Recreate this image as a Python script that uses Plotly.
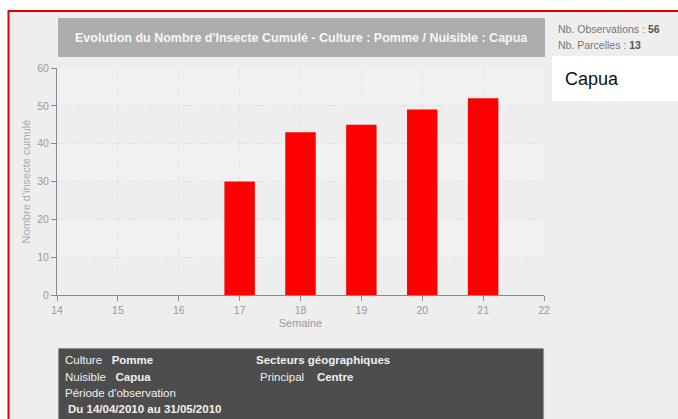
import plotly.graph_objects as go

# ---- data ----
weeks = [17, 18, 19, 20, 21]
cumulative = [30, 43, 45, 49, 52]
x_ticks = [14, 15, 16, 17, 18, 19, 20, 21, 22]
y_ticks = [0, 10, 20, 30, 40, 50, 60]
hatched_bands = [(10, 20), (30, 40), (50, 60)]

W, H = 678, 419
def px(x):
    return x / W
def py(y):
    return 1 - y / H

FONT_N = "Liberation Sans Narrow, Liberation Sans, Arial, sans-serif"
FONT = "Liberation Sans, Arial, sans-serif"

fig = go.Figure()
fig.add_trace(go.Bar(
    x=weeks, y=cumulative, width=0.5,
    marker=dict(color="#ff0000", line=dict(width=0)),
    hoverinfo="x+y", showlegend=False,
))

shapes = []
# outer frame with red border
shapes.append(dict(type="rect", xref="paper", yref="paper",
                   x0=px(8.5), x1=px(720), y0=py(11), y1=py(460),
                   fillcolor="#eeeeee", line=dict(color="#dd0000", width=2),
                   layer="below"))
# title box
shapes.append(dict(type="rect", xref="paper", yref="paper",
                   x0=px(58), x1=px(545), y0=py(18), y1=py(57),
                   fillcolor="#acacac", line=dict(width=0), layer="below"))
# white legend box
shapes.append(dict(type="rect", xref="paper", yref="paper",
                   x0=px(552), x1=px(720), y0=py(56), y1=py(101),
                   fillcolor="#ffffff", line=dict(width=0), layer="below"))
# bottom info box
shapes.append(dict(type="rect", xref="paper", yref="paper",
                   x0=px(58), x1=px(544), y0=py(348), y1=py(460),
                   fillcolor="#4d4d4d", line=dict(color="#e0e0e0", width=1),
                   layer="below"))
# hatched bands (approximated by a slightly darker fill)
for lo, hi in hatched_bands:
    shapes.append(dict(type="rect", xref="x", yref="y",
                       x0=x_ticks[0], x1=x_ticks[-1], y0=lo, y1=hi,
                       fillcolor="#f1f1f1", line=dict(width=0), layer="below"))

annotations = []
annotations.append(dict(
    text="<b>Evolution du Nombre d'Insecte Cumulé - Culture : Pomme / Nuisible : Capua</b>",
    xref="paper", yref="paper", x=px(301.5), y=py(37.5), xanchor="center", yanchor="middle",
    showarrow=False, font=dict(family=FONT_N, size=12.5, color="#f7f7f7")))
annotations.append(dict(
    text="Nb. Observations : <b><span style='color:#555'>56</span></b>",
    xref="paper", yref="paper", x=px(556), y=py(29), xanchor="left", yanchor="middle",
    showarrow=False, font=dict(family=FONT_N, size=10.5, color="#777777")))
annotations.append(dict(
    text="Nb. Parcelles : <b><span style='color:#555'>13</span></b>",
    xref="paper", yref="paper", x=px(556), y=py(45), xanchor="left", yanchor="middle",
    showarrow=False, font=dict(family=FONT_N, size=10.5, color="#777777")))
annotations.append(dict(
    text="Capua", xref="paper", yref="paper", x=px(563), y=py(78.5),
    xanchor="left", yanchor="middle", showarrow=False,
    font=dict(family=FONT, size=18, color="#111111")))

info = [
    ("Culture&nbsp;&nbsp;&nbsp;<b>Pomme</b>", 63, 360),
    ("Nuisible&nbsp;&nbsp;&nbsp;<b>Capua</b>", 63, 377),
    ("Période d'observation", 63, 393),
    ("<b>Du 14/04/2010 au 31/05/2010</b>", 66, 409),
    ("<b>Secteurs géographiques</b>", 254, 360),
    ("Principal&nbsp;&nbsp;&nbsp;&nbsp;<b>Centre</b>", 258, 377),
]
for t, x, y in info:
    annotations.append(dict(text=t, xref="paper", yref="paper", x=px(x), y=py(y),
                            xanchor="left", yanchor="middle", showarrow=False,
                            font=dict(family=FONT_N, size=11.5, color="#f0f0f0")))

fig.update_layout(
    width=W, height=H,
    margin=dict(l=0, r=0, t=0, b=0, autoexpand=False),
    paper_bgcolor="#ffffff",
    plot_bgcolor="#f9f9f9",
    barmode="overlay",
    shapes=shapes,
    annotations=annotations,
    xaxis=dict(
        domain=[px(57), px(544)], automargin=False,
        range=[14, 22], tickmode="array", tickvals=x_ticks,
        ticktext=[str(v) for v in x_ticks],
        showgrid=True, gridcolor="#e2e2e2", griddash="dash", gridwidth=1,
        showline=True, linecolor="#8a8a8a", linewidth=1,
        ticks="outside", ticklen=5, tickcolor="#8a8a8a",
        tickfont=dict(family=FONT_N, size=10.5, color="#999999"),
        title=dict(text="Semaine", standoff=4,
                   font=dict(family=FONT_N, size=11, color="#999999")),
        zeroline=False, fixedrange=True,
    ),
    yaxis=dict(
        domain=[py(295), py(68)], automargin=False,
        range=[0, 60], tickmode="array", tickvals=y_ticks,
        showgrid=True, gridcolor="#e2e2e2", griddash="dash", gridwidth=1,
        showline=True, linecolor="#8a8a8a", linewidth=1,
        ticks="outside", ticklen=5, tickcolor="#8a8a8a",
        tickfont=dict(family=FONT_N, size=10.5, color="#999999"),
        title=dict(text="Nombre d'insecte cumulé", standoff=4,
                   font=dict(family=FONT, size=11, color="#aaaaaa")),
        zeroline=False, fixedrange=True,
    ),
)

fig.write_html(
    "out.html",
    config={"displayModeBar": False},
    post_script="document.body.style.margin='0';document.body.style.overflow='hidden';",
)
